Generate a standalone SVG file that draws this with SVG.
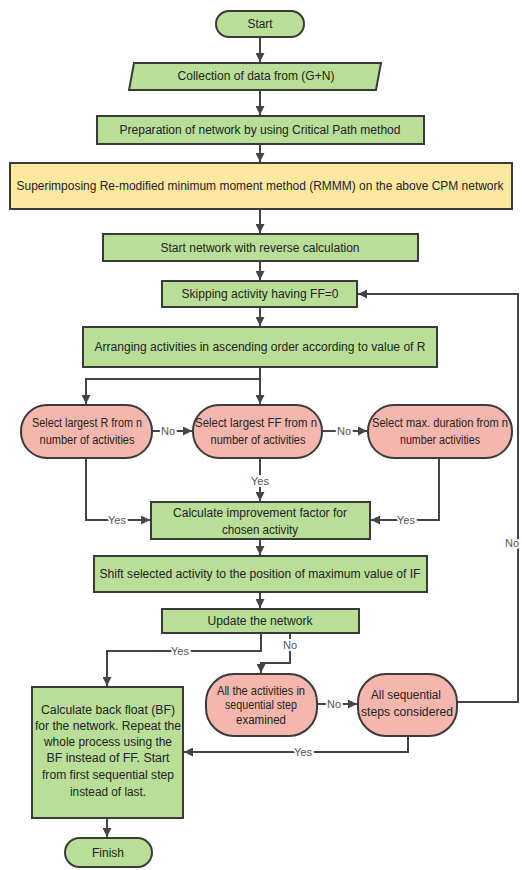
<svg xmlns="http://www.w3.org/2000/svg" width="522" height="870" viewBox="0 0 522 870">
<defs>
<style>
.g{fill:#b9de98;stroke:#3a3a3a;stroke-width:2}
.p{fill:#f5b7ad;stroke:#3a3a3a;stroke-width:2}
.y{fill:#fde8a0;stroke:#3a3a3a;stroke-width:2}
text{font-family:"Liberation Sans",Arial,sans-serif;font-size:12px;fill:#222;text-anchor:middle;dominant-baseline:central}
.c{fill:none;stroke:#444;stroke-width:2}
.l{font-size:11px;fill:#555;paint-order:stroke;stroke:#fff;stroke-width:4px}
</style>
<marker id="a" viewBox="0 0 10 10" refX="10" refY="5" markerWidth="4.5" markerHeight="4.5" orient="auto" markerUnits="strokeWidth">
<path d="M0,0 L10,5 L0,10 z" fill="#444"/>
</marker>
</defs>
<rect width="522" height="870" fill="#fff"/>
<g id="connectors">
<path class="c" d="M260,37 V62" marker-end="url(#a)"/>
<path class="c" d="M260,90 V115" marker-end="url(#a)"/>
<path class="c" d="M260,144 V162" marker-end="url(#a)"/>
<path class="c" d="M260,209 V233" marker-end="url(#a)"/>
<path class="c" d="M260,261 V280" marker-end="url(#a)"/>
<path class="c" d="M260,307 V326" marker-end="url(#a)"/>
<path class="c" d="M260,367 V404" marker-end="url(#a)"/>
<path class="c" d="M260,379 H86 V404" marker-end="url(#a)"/>
<path class="c" d="M152,431 H192" marker-end="url(#a)"/>
<path class="c" d="M322,431 H367" marker-end="url(#a)"/>
<path class="c" d="M86,458 V520 H150" marker-end="url(#a)"/>
<path class="c" d="M260,458 V501" marker-end="url(#a)"/>
<path class="c" d="M439,458 V520 H371" marker-end="url(#a)"/>
<path class="c" d="M260,539 V555" marker-end="url(#a)"/>
<path class="c" d="M260,592 V608" marker-end="url(#a)"/>
<path class="c" d="M261,633 V651 H107 V686" marker-end="url(#a)"/>
<path class="c" d="M290,633 V663 H261 V673" marker-end="url(#a)"/>
<path class="c" d="M317,704 H357" marker-end="url(#a)"/>
<path class="c" d="M408,736 V752 H184" marker-end="url(#a)"/>
<path class="c" d="M457,702 H518 V294 H358" marker-end="url(#a)"/>
<path class="c" d="M107,818 V837" marker-end="url(#a)"/>
<text class="l" x="168" y="431">No</text>
<text class="l" x="344" y="431">No</text>
<text class="l" x="117" y="520">Yes</text>
<text class="l" x="260" y="481">Yes</text>
<text class="l" x="406" y="520">Yes</text>
<text class="l" x="180" y="651">Yes</text>
<text class="l" x="290" y="645">No</text>
<text class="l" x="334" y="704">No</text>
<text class="l" x="303" y="752">Yes</text>
<text class="l" x="512" y="543">No</text>
</g>
<g id="start">
<rect class="g" x="216" y="11" width="88" height="26" rx="13"/>
<text x="260" y="24" textLength="25" lengthAdjust="spacingAndGlyphs">Start</text>
</g>
<g id="collection">
<polygon class="g" points="134,63 381,63 376,90 129,90"/>
<text x="256" y="76" textLength="157" lengthAdjust="spacingAndGlyphs">Collection of data from (G+N)</text>
</g>
<g id="preparation">
<rect class="g" x="97" y="116" width="327" height="28"/>
<text x="260" y="130" textLength="281" lengthAdjust="spacingAndGlyphs">Preparation of network by using Critical Path method</text>
</g>
<g id="superimposing">
<rect class="y" x="10" y="163" width="502" height="46"/>
<text x="260" y="186" textLength="487" lengthAdjust="spacingAndGlyphs">Superimposing Re-modified minimum moment method (RMMM) on the above CPM network</text>
</g>
<g id="startnetwork">
<rect class="g" x="103" y="234" width="315" height="27"/>
<text x="260" y="247.5" textLength="199" lengthAdjust="spacingAndGlyphs">Start network with reverse calculation</text>
</g>
<g id="skipping">
<rect class="g" x="162" y="281" width="195" height="26"/>
<text x="260" y="294" textLength="157" lengthAdjust="spacingAndGlyphs">Skipping activity having FF=0</text>
</g>
<g id="arranging">
<rect class="g" x="83" y="327" width="354" height="40"/>
<text x="260" y="347" textLength="331" lengthAdjust="spacingAndGlyphs">Arranging activities in ascending order according to value of R</text>
</g>
<g id="selectR">
<rect class="p" x="21" y="405" width="131" height="53" rx="26"/>
<text x="87" y="423" textLength="110" lengthAdjust="spacingAndGlyphs">Select largest R from n</text>
<text x="87" y="440" textLength="95" lengthAdjust="spacingAndGlyphs">number of activities</text>
</g>
<g id="selectFF">
<rect class="p" x="193" y="405" width="129" height="53" rx="26"/>
<text x="256" y="423" textLength="122" lengthAdjust="spacingAndGlyphs">Select largest FF from n</text>
<text x="258" y="440" textLength="95" lengthAdjust="spacingAndGlyphs">number of activities</text>
</g>
<g id="selectDuration">
<rect class="p" x="368" y="405" width="144" height="53" rx="26"/>
<text x="440" y="423" textLength="136" lengthAdjust="spacingAndGlyphs">Select max. duration from n</text>
<text x="440" y="440" textLength="80" lengthAdjust="spacingAndGlyphs">number activities</text>
</g>
<g id="calculateIF">
<rect class="g" x="151" y="502" width="219" height="37"/>
<text x="260" y="513" textLength="174" lengthAdjust="spacingAndGlyphs">Calculate improvement factor for</text>
<text x="260" y="530" textLength="76" lengthAdjust="spacingAndGlyphs">chosen activity</text>
</g>
<g id="shift">
<rect class="g" x="94" y="556" width="333" height="36"/>
<text x="260" y="574" textLength="321" lengthAdjust="spacingAndGlyphs">Shift selected activity to the position of maximum value of IF</text>
</g>
<g id="update">
<rect class="g" x="162" y="609" width="197" height="24"/>
<text x="260" y="621" textLength="105" lengthAdjust="spacingAndGlyphs">Update the network</text>
</g>
<g id="backfloat">
<rect class="g" x="32" y="687" width="151" height="131"/>
<text x="108" y="710" textLength="134" lengthAdjust="spacingAndGlyphs">Calculate back float (BF)</text>
<text x="108" y="726" textLength="146" lengthAdjust="spacingAndGlyphs">for the network. Repeat the</text>
<text x="108" y="742" textLength="128" lengthAdjust="spacingAndGlyphs">whole process using the</text>
<text x="108" y="758" textLength="123" lengthAdjust="spacingAndGlyphs">BF instead of FF. Start</text>
<text x="108" y="775" textLength="132" lengthAdjust="spacingAndGlyphs">from first sequential step</text>
<text x="108" y="792" textLength="76" lengthAdjust="spacingAndGlyphs">instead of last.</text>
</g>
<g id="examined">
<rect class="p" x="206" y="674" width="111" height="62" rx="28"/>
<text x="261" y="691" textLength="88" lengthAdjust="spacingAndGlyphs">All the activities in</text>
<text x="261" y="705" textLength="72" lengthAdjust="spacingAndGlyphs">sequential step</text>
<text x="261" y="720" textLength="50" lengthAdjust="spacingAndGlyphs">examined</text>
</g>
<g id="considered">
<rect class="p" x="358" y="674" width="99" height="62" rx="28"/>
<text x="406" y="695" textLength="70" lengthAdjust="spacingAndGlyphs">All sequential</text>
<text x="407" y="712" textLength="92" lengthAdjust="spacingAndGlyphs">steps considered</text>
</g>
<g id="finish">
<rect class="g" x="65" y="838" width="87" height="29" rx="14.5"/>
<text x="108" y="852.5" textLength="32" lengthAdjust="spacingAndGlyphs">Finish</text>
</g>
</svg>
